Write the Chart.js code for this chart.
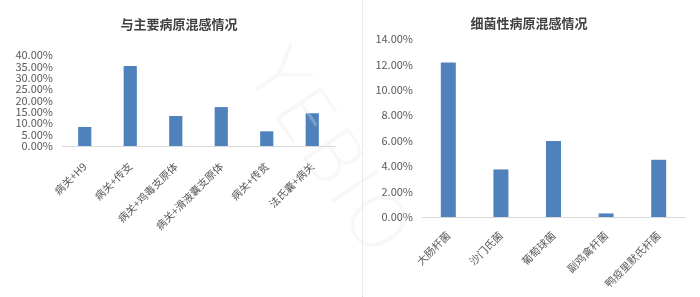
<!DOCTYPE html>
<html>
<head>
<meta charset="utf-8">
<script src="https://cdn.jsdelivr.net/npm/chart.js@4/dist/chart.umd.min.js"></script>
<style>
  html, body { margin: 0; padding: 0; background: #fff; }
  #wrap { position: relative; width: 700px; height: 297px; overflow: hidden; }
  #left { position: absolute; left: 0; top: 0; }
  #right { position: absolute; left: 362px; top: 0; }
  #sep { position: absolute; left: 362px; top: 0; width: 0; height: 297px; border-left: 1px dotted #d4d4d4; }
  #mark {
    position: absolute; left: 180px; top: 115px; width: 300px; text-align: center;
    font-family: "DejaVu Sans", sans-serif; font-weight: 200; font-size: 74px; letter-spacing: 2px;
    color: rgba(228, 228, 228, 0.3); transform: rotate(56deg); transform-origin: 50% 50%;
    pointer-events: none; line-height: 1;
  }
</style>
</head>
<body>
<div id="wrap">
  <canvas id="left" width="362" height="297"></canvas>
  <div id="sep"></div>
  <canvas id="right" width="338" height="297"></canvas>
  <div id="mark">YEBIO</div>
</div>
<script>
// Mixed infections with the main pathogens (%)
const mainCategories = ['病关+H9', '病关+传支', '病关+鸡毒支原体', '病关+滑液囊支原体', '病关+传贫', '法氏囊+病关'];
const mainValues = [8.35, 35.2, 13.2, 17.1, 6.45, 14.4];
const mainTitle = '与主要病原混感情况';

// Mixed infections with bacterial pathogens (%)
const bacCategories = ['大肠杆菌', '沙门氏菌', '葡萄球菌', '副鸡禽杆菌', '鸭疫里默氏杆菌'];
const bacValues = [12.15, 3.74, 5.98, 0.28, 4.5];
const bacTitle = '细菌性病原混感情况';

const FONT = '"Noto Sans CJK SC", "Noto Sans", sans-serif';
const BAR = '#4f81bd';

function pct(v) { return Number(v).toFixed(2) + '%'; }

// nudges the title block sideways after layout
function titleShift(dx) {
  return {
    id: 'titleShift',
    afterLayout(chart) {
      const t = chart.titleBlock;
      if (t) { t.left += dx; t.right += dx; }
    }
  };
}

function makeChart(id, labels, values, title, cfg) {
  return new Chart(document.getElementById(id), {
    type: 'bar',
    data: {
      labels: labels,
      datasets: [{ data: values, backgroundColor: BAR, borderWidth: 0,
                   categoryPercentage: 1, barPercentage: cfg.barPct }]
    },
    plugins: [titleShift(cfg.titleDx)],
    options: {
      responsive: false,
      animation: false,
      devicePixelRatio: 1,
      layout: { padding: { left: 0, right: cfg.padRight, top: 0, bottom: 0 } },
      plugins: {
        legend: { display: false },
        tooltip: { enabled: false },
        title: {
          display: true, text: title, color: '#404040',
          font: { family: FONT, size: 13, weight: 'bold', lineHeight: 1.2 },
          padding: { top: cfg.titleTop, bottom: cfg.titleBottom }
        }
      },
      scales: {
        x: {
          grid: { display: false, drawTicks: false },
          border: { display: true, color: '#d9d9d9', width: 1 },
          ticks: {
            autoSkip: false, minRotation: 45, maxRotation: 45, padding: cfg.xPad,
            color: '#595959', font: { family: FONT, size: 10.5 }
          },
          afterFit: function (s) { s.height = cfg.xHeight; }
        },
        y: {
          min: 0, max: cfg.max,
          grid: { display: false, drawTicks: false },
          border: { display: false },
          ticks: {
            autoSkip: false, stepSize: cfg.step, padding: 9, color: '#595959',
            font: { family: FONT, size: 11, lineHeight: 1 },
            callback: pct
          },
          afterFit: function (s) { s.width = cfg.yWidth; }
        }
      }
    }
  });
}

makeChart('left', mainCategories, mainValues, mainTitle, {
  max: 40, step: 5, barPct: 0.29, padRight: 27, titleDx: 11.5,
  titleTop: 16, titleBottom: 23.4, xHeight: 151, yWidth: 62, xPad: 14
});

makeChart('right', bacCategories, bacValues, bacTitle, {
  max: 14, step: 2, barPct: 0.285, padRight: 15, titleDx: 5.5,
  titleTop: 15, titleBottom: 8.4, xHeight: 80, yWidth: 60, xPad: 12
});
</script>
</body>
</html>
